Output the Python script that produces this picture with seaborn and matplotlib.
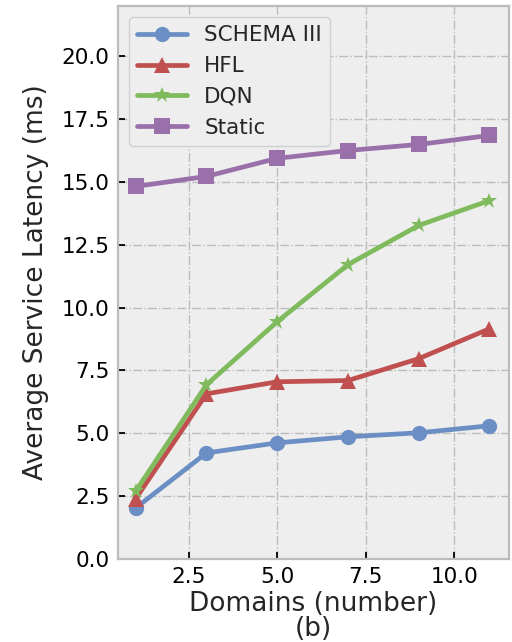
import matplotlib
matplotlib.use("Agg")
import matplotlib.pyplot as plt
import pandas as pd
import seaborn as sns

domains = [1, 3, 5, 7, 9, 11]
schema_iii = [2.03, 4.22, 4.62, 4.86, 5.02, 5.30]
hfl = [2.40, 6.57, 7.05, 7.10, 7.97, 9.16]
dqn = [2.70, 6.93, 9.44, 11.71, 13.27, 14.26]
static = [14.82, 15.22, 15.94, 16.25, 16.49, 16.85]

series_names = ["SCHEMA III", "HFL", "DQN", "Static"]
series_values = [schema_iii, hfl, dqn, static]
colors = ["#6b8fc5", "#c0504f", "#7fbb5d", "#9a70aa"]
markers = ["o", "^", "*", "s"]

sns.set_style("whitegrid")
plt.rcParams["font.family"] = ["DejaVu Sans"]

fig = plt.figure(figsize=(5.12, 6.42), dpi=100)
ax = fig.add_axes([0.2305, 0.1293, 0.7635, 0.8614])
ax.set_facecolor("#eeeeee")

for name, vals, col, mk in zip(series_names, series_values, colors, markers):
    df = pd.DataFrame({"x": domains, "y": vals})
    sns.lineplot(data=df, x="x", y="y", ax=ax, color=col, marker=mk,
                 markersize=11 if mk != "*" else 12, linewidth=3.4,
                 markeredgewidth=0, label=name, legend=False)

ax.set_xlim(0.5, 11.55)
ax.set_ylim(0, 22)
ax.set_xticks([2.5, 5.0, 7.5, 10.0])
ax.set_yticks([0, 2.5, 5, 7.5, 10, 12.5, 15, 17.5, 20])
ax.set_xticklabels(["2.5", "5.0", "7.5", "10.0"])
ax.set_yticklabels(["0.0", "2.5", "5.0", "7.5", "10.0", "12.5", "15.0", "17.5", "20.0"])

ax.grid(True, color="#bcbcbc", linestyle="-.", linewidth=1.0)
for sp in ax.spines.values():
    sp.set_color("#bcbcbc")
    sp.set_linewidth(1.6)

ax.tick_params(axis="both", direction="in", length=5, width=1.3, color="black",
               labelsize=15.5, labelcolor="black", left=True, bottom=True, pad=6)

ax.set_xlabel("Domains (number)\n(b)", fontsize=19, labelpad=3, linespacing=0.95)
ax.set_ylabel("Average Service Latency (ms)", fontsize=19, labelpad=9)

leg = ax.legend(loc="upper left", fontsize=15.5, handlelength=2.3, fancybox=True,
                frameon=True, borderaxespad=0.5)
leg.get_frame().set_facecolor("#eeeeee")
leg.get_frame().set_edgecolor("#d0d0d0")
leg.get_frame().set_alpha(1)

fig.savefig("out.png", dpi=100)
